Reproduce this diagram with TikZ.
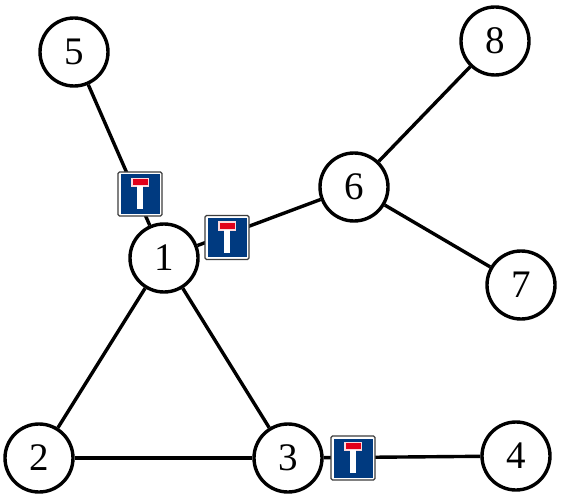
\documentclass[tikz,border=0pt]{standalone}
\usepackage{fontspec}
\setmainfont{Liberation Serif}
\definecolor{signblue}{RGB}{0,58,128}
\definecolor{signred}{RGB}{226,0,26}
\definecolor{signedge}{RGB}{60,60,60}
\begin{document}
\begin{tikzpicture}[x=1bp,y=-1bp,
  vertex/.style={circle,draw=black,line width=3.4bp,fill=white,minimum size=68bp,inner sep=0pt,font=\fontsize{39bp}{40bp}\selectfont},
  edge/.style={draw=black,line width=3.4bp},
  signbox/.style={rectangle,rounded corners=1.5bp,draw=signedge,line width=1.2bp,fill=white,minimum size=44bp,inner sep=0pt,
    path picture={
      \begin{scope}[shift={(path picture bounding box.center)},x=1bp,y=-1bp,sharp corners]
        \fill[signblue] (-19.5,-19.5) rectangle (19.5,19.5);
        \fill[white!85!signred] (-8.7,-16.3) rectangle (8.7,-7);
        \fill[white] (-3,-8) rectangle (3,15);
        \fill[signred] (-7.5,-15) rectangle (7.5,-9);
      \end{scope}
    }}]
\useasboundingbox (0,0) rectangle (567,496);
\fill[white] (0,0) rectangle (567,496);
\node[vertex] (n5) at (74,52) {5};
\node[vertex] (n8) at (495,41) {8};
\node[vertex] (n6) at (354,187) {6};
\node[vertex] (n1) at (164,258) {1};
\node[vertex] (n7) at (521,285) {7};
\node[vertex] (n2) at (39,458) {2};
\node[vertex] (n3) at (288,458) {3};
\node[vertex] (n4) at (516,456) {4};
\draw[edge] (n5) -- (n1);
\draw[edge] (n1) -- (n6);
\draw[edge] (n6) -- (n8);
\draw[edge] (n6) -- (n7);
\draw[edge] (n1) -- (n2);
\draw[edge] (n1) -- (n3);
\draw[edge] (n2) -- (n3);
\draw[edge] (n3) -- (n4);
\node[signbox] (s1) at (140,194) {};
\node[signbox] (s2) at (227,237.5) {};
\node[signbox] (s3) at (353,458) {};
\end{tikzpicture}
\end{document}
